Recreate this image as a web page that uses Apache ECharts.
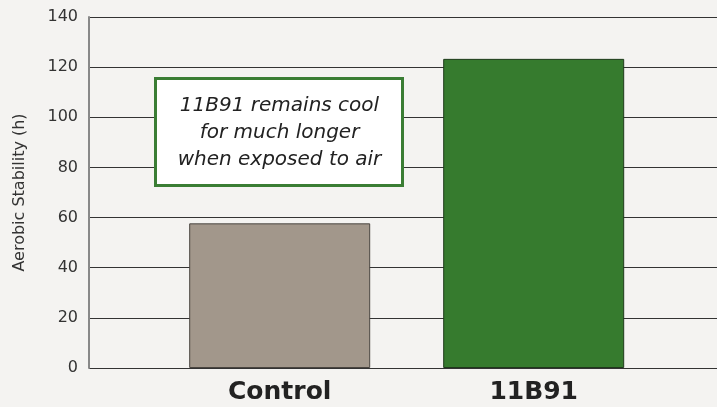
<!DOCTYPE html>
<html>
<head>
<meta charset="utf-8">
<script src="https://cdn.jsdelivr.net/npm/echarts@6/dist/echarts.min.js"></script>
<style>
html,body{margin:0;padding:0;background:#f4f3f1;}
#c{width:717px;height:407px;}
</style>
</head>
<body>
<div id="c"></div>
<script>
const categories = ['Control', '11B91'];
const values = [57.7, 123.3];
const barColors = ['#a2978b', '#367b2e'];
const barBorders = ['#4a4540', '#1f3a1b'];
const yTicks = [0, 20, 40, 60, 80, 100, 120, 140];
const axisName = 'Aerobic Stability (h)';
const noteLines = ['11B91 remains cool', 'for much longer', 'when exposed to air'];

const chart = echarts.init(document.getElementById('c'), null, {renderer: 'canvas'});
const font = 'DejaVu Sans, sans-serif';
chart.setOption({
  backgroundColor: '#f4f3f1',
  animation: false,
  grid: [
    {left: 89, right: 0, top: 17, bottom: 39},
    {left: 152.7, right: 56.3, top: 17, bottom: 39}
  ],
  xAxis: [
    {gridIndex: 0, type: 'category', data: categories, show: false},
    {gridIndex: 1, type: 'category', data: categories,
     axisLine: {show: false}, axisTick: {show: false},
     axisLabel: {margin: 12, fontSize: 25, fontWeight: 'bold', color: '#222', fontFamily: font}}
  ],
  yAxis: [
    {gridIndex: 0, type: 'value', min: yTicks[0], max: yTicks[yTicks.length - 1], interval: 20,
     name: axisName, nameLocation: 'middle', nameGap: 61,
     nameTextStyle: {fontSize: 16, color: '#333', fontFamily: font},
     axisLine: {show: true, lineStyle: {color: '#888', width: 2}},
     axisTick: {show: false},
     axisLabel: {margin: 11, fontSize: 16, color: '#333', fontFamily: font},
     splitLine: {show: true, lineStyle: {color: '#333', width: 1}}},
    {gridIndex: 1, type: 'value', min: yTicks[0], max: yTicks[yTicks.length - 1], interval: 20, show: false}
  ],
  series: [{
    type: 'bar', xAxisIndex: 1, yAxisIndex: 1, barWidth: 181,
    data: values.map((v, i) => ({value: v, itemStyle: {color: barColors[i], borderColor: barBorders[i], borderWidth: 1}}))
  }],
  graphic: [{
    type: 'group', left: 154, top: 77, z: 100,
    children: [
      {type: 'rect', z: 100, shape: {x: 0, y: 0, width: 247, height: 107},
       style: {fill: '#ffffff', stroke: '#3a7d34', lineWidth: 3}},
      {type: 'text', z: 101, x: 124, y: 14,
       style: {text: noteLines.join('\n'), textAlign: 'center', fontSize: 20, lineHeight: 27,
               fontStyle: 'italic', fill: '#222', fontFamily: font}}
    ]
  }]
});
</script>
</body>
</html>
